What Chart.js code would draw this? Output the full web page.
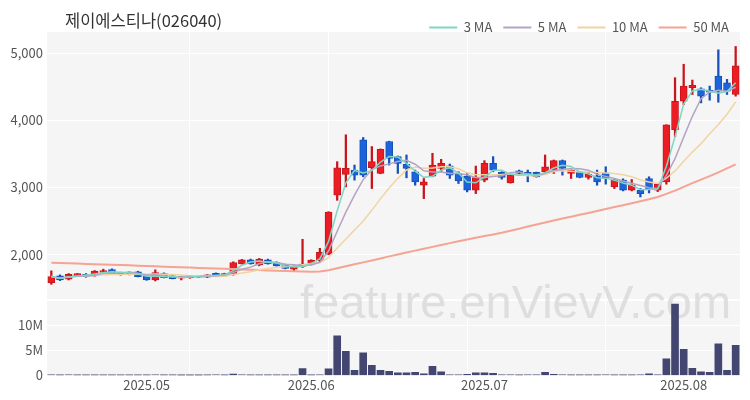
<!DOCTYPE html>
<html>
<head>
<meta charset="utf-8">
<script src="https://cdn.jsdelivr.net/npm/chart.js@4.4.1/dist/chart.umd.min.js"></script>
<style>
  body { margin: 0; background: #fff; }
  #wrap { position: relative; width: 750px; height: 400px; }
  #title { position: absolute; left: 65px; top: 10px; font: 16.5px/20px "Noto Sans CJK KR", sans-serif; color: #333; }
</style>
</head>
<body>
<div id="wrap">
  <div id="title">제이에스티나(026040)</div>
  <canvas id="c" width="750" height="400"></canvas>
</div>
<script>
// 거래일 (월별)
const tradingDays = {
  "2025-04": [16, 17, 18, 21, 22, 23, 24, 25, 28, 29, 30],
  "2025-05": [2, 7, 8, 9, 12, 13, 14, 15, 16, 19, 20, 21, 22, 23, 26, 27, 28, 29, 30],
  "2025-06": [2, 3, 4, 5, 9, 10, 11, 12, 13, 16, 17, 18, 19, 20, 23, 24, 25, 26, 27, 30],
  "2025-07": [1, 2, 3, 4, 7, 8, 9, 10, 11, 14, 15, 16, 17, 18, 21, 22, 23, 24, 25, 28, 29, 30, 31],
  "2025-08": [1, 4, 5, 6, 7, 8, 11],
};
const dates = Object.entries(tradingDays).flatMap(([m, ds]) =>
  ds.map((d) => m + "-" + String(d).padStart(2, "0"))
);

const opens = [
  1585, 1685, 1635, 1690, 1710, 1685, 1735, 1780, 1705, 1705,
  1745, 1685, 1625, 1720, 1685, 1650, 1655, 1665, 1665, 1725,
  1685, 1710, 1865, 1925, 1850, 1925, 1885, 1855, 1785, 1825,
  1860, 1910, 2010, 2885, 3195, 3260, 3710, 3295, 3210, 3685,
  3460, 3345, 3235, 3035, 3170, 3285, 3325, 3200, 3170, 2960,
  3110, 3360, 3225, 3070, 3250, 3225, 3225, 3235, 3260, 3400,
  3210, 3235, 3150, 3175, 3220, 3010, 3110, 2960, 2960, 3135,
  2960, 3085, 3860, 4285, 4485, 4470, 4445, 4660, 4560, 4385,
];
const highs = [
  1760, 1700, 1720, 1720, 1720, 1765, 1785, 1790, 1740, 1745,
  1755, 1690, 1775, 1730, 1690, 1680, 1690, 1690, 1705, 1730,
  1725, 1895, 1930, 1935, 1945, 1935, 1895, 1860, 1840, 2230,
  1925, 2095, 2640, 3385, 3785, 3335, 3745, 3610, 3575, 3690,
  3470, 3485, 3260, 3135, 3510, 3420, 3350, 3235, 3210, 3320,
  3400, 3460, 3235, 3190, 3260, 3260, 3230, 3485, 3410, 3410,
  3260, 3240, 3235, 3260, 3310, 3135, 3130, 3120, 2985, 3160,
  3060, 3935, 4635, 4835, 4600, 4485, 4510, 5050, 4610, 5100,
];
const lows = [
  1560, 1615, 1625, 1680, 1665, 1680, 1725, 1715, 1695, 1700,
  1670, 1620, 1610, 1655, 1640, 1625, 1650, 1660, 1660, 1680,
  1680, 1695, 1860, 1860, 1835, 1860, 1830, 1790, 1755, 1810,
  1850, 1885, 2000, 2810, 3010, 3110, 3160, 2985, 3205, 3335,
  3210, 3145, 3035, 2835, 3160, 3235, 3135, 3060, 2935, 2910,
  3085, 3235, 3125, 3065, 3185, 3085, 3155, 3210, 3210, 3185,
  3135, 3145, 3125, 3035, 3050, 2985, 2950, 2950, 2860, 2920,
  2940, 3050, 3760, 4235, 4385, 4260, 4300, 4270, 4385, 4360,
];
const closes = [
  1675, 1625, 1710, 1710, 1675, 1755, 1765, 1720, 1730, 1740,
  1675, 1625, 1735, 1660, 1645, 1675, 1685, 1685, 1700, 1685,
  1720, 1885, 1925, 1865, 1935, 1865, 1835, 1795, 1825, 1860,
  1920, 2035, 2635, 3295, 3285, 3185, 3185, 3385, 3570, 3435,
  3360, 3285, 3085, 3085, 3335, 3360, 3185, 3100, 2960, 3150,
  3360, 3260, 3150, 3185, 3210, 3195, 3160, 3310, 3400, 3285,
  3260, 3150, 3200, 3085, 3135, 3110, 2960, 3035, 2910, 2970,
  3050, 3935, 4285, 4510, 4520, 4360, 4420, 4435, 4435, 4810,
];
// 거래량 (백만 주)
const volumes = [
  0.12, 0.05, 0.08, 0.04, 0.03, 0.07, 0.05, 0.04, 0.03, 0.03,
  0.03, 0.04, 0.1, 0.05, 0.03, 0.02, 0.02, 0.02, 0.03, 0.08,
  0.05, 0.25, 0.12, 0.05, 0.06, 0.04, 0.03, 0.03, 0.05, 1.35,
  0.05, 0.1, 1.3, 7.9, 4.8, 1.0, 4.5, 2.0, 1.0, 0.8,
  0.5, 0.5, 0.6, 0.3, 1.8, 0.7, 0.1, 0.1, 0.2, 0.5,
  0.5, 0.4, 0.1, 0.1, 0.05, 0.1, 0.1, 0.6, 0.2, 0.1,
  0.05, 0.05, 0.05, 0.05, 0.08, 0.05, 0.05, 0.05, 0.1, 0.3,
  0.1, 3.3, 14.2, 5.2, 1.4, 0.7, 0.6, 6.3, 1.0, 6.0,
];
// 50일 이동평균
const ma50 = [
  1882, 1878, 1873, 1869, 1864, 1860, 1856, 1851, 1846, 1842,
  1837, 1832, 1828, 1823, 1818, 1814, 1809, 1804, 1800, 1795,
  1790, 1786, 1781, 1776, 1772, 1767, 1763, 1758, 1754, 1750,
  1748, 1752, 1768, 1798, 1828, 1857, 1886, 1915, 1944, 1976,
  2005, 2033, 2061, 2089, 2117, 2145, 2173, 2200, 2226, 2252,
  2278, 2302, 2327, 2358, 2388, 2420, 2450, 2480, 2510, 2538,
  2566, 2594, 2622, 2650, 2680, 2710, 2738, 2766, 2796, 2825,
  2860, 2905, 2955, 3010, 3065, 3118, 3170, 3225, 3285, 3345,
];
const priceTicks = [2000, 3000, 4000, 5000];
const volumeTicks = [0, 5e6, 10e6];

const UP = "#ec1c24", UP_EDGE = "#c8141b";
const DOWN = "#1c64dc", DOWN_EDGE = "#1650b8";

// 단순 이동평균 (앞부분은 있는 만큼만)
function movingAvg(n) {
  return closes.map((_, i) => {
    const s = closes.slice(Math.max(0, i - n + 1), i + 1);
    return s.reduce((a, b) => a + b, 0) / s.length;
  });
}

const isUp = closes.map((c, i) => c >= opens[i]);

const panelBg = {
  id: "panelBg",
  beforeDraw(chart) {
    const { ctx, chartArea: a, scales } = chart;
    ctx.save();
    ctx.fillStyle = "#f5f5f5";
    const p = scales.y, v = scales.y2;
    ctx.fillRect(a.left, p.top, a.right - a.left, p.bottom - p.top - 1);
    ctx.fillRect(a.left, v.top + 1, a.right - a.left, v.bottom - v.top - 1);
    ctx.restore();
  },
};

const watermark = {
  id: "watermark",
  beforeDatasetsDraw(chart) {
    const ctx = chart.ctx;
    ctx.save();
    ctx.font = '47px "Liberation Sans", Arial, sans-serif';
    ctx.fillStyle = "rgba(212,212,212,0.7)";
    ctx.textBaseline = "alphabetic";
    ctx.fillText("feature.enVievV.com", 300, 318);
    ctx.restore();
  },
};

// 범례 높이를 줄여 차트 영역을 위로
const legendHeight = {
  id: "legendHeight",
  beforeUpdate(chart) {
    const lg = chart.legend;
    if (lg && !lg._patched) {
      const fit = lg.fit;
      lg.fit = function () {
        fit.call(this);
        this.height = 22;
      };
      lg._patched = true;
    }
  },
};

Chart.defaults.font.family = '"Noto Sans CJK KR", "Noto Sans", sans-serif';
Chart.defaults.font.size = 13;
Chart.defaults.color = "#555";

new Chart(document.getElementById("c"), {
  data: {
    labels: dates,
    datasets: [
      { type: "line", label: "3 MA", data: movingAvg(3), borderColor: "#7fd6c4", borderWidth: 1.5, pointRadius: 0, yAxisID: "y", order: 0 },
      { type: "line", label: "5 MA", data: movingAvg(5), borderColor: "#b4a3c4", borderWidth: 1.5, pointRadius: 0, yAxisID: "y", order: 0 },
      { type: "line", label: "10 MA", data: movingAvg(10), borderColor: "#f2d3a2", borderWidth: 1.5, pointRadius: 0, yAxisID: "y", order: 0 },
      { type: "line", label: "50 MA", data: ma50, borderColor: "#f5a392", borderWidth: 2, pointRadius: 0, yAxisID: "y", order: 0 },
      {
        type: "bar", label: "wick", yAxisID: "y", order: 2, grouped: false,
        data: lows.map((l, i) => [l, highs[i]]),
        backgroundColor: isUp.map((u) => (u ? UP_EDGE : DOWN_EDGE)),
        barThickness: 1.6,
      },
      {
        type: "bar", label: "body", yAxisID: "y", order: 1, grouped: false,
        data: opens.map((o, i) => [o, closes[i]]),
        backgroundColor: isUp.map((u) => (u ? UP : DOWN)),
        borderColor: isUp.map((u) => (u ? UP_EDGE : DOWN_EDGE)),
        borderWidth: 1, borderSkipped: false,
        barThickness: 7, minBarLength: 2,
      },
      {
        type: "bar", label: "volume", yAxisID: "y2", order: 1, grouped: false,
        data: volumes.map((v) => v * 1e6),
        backgroundColor: "#434670",
        barThickness: 7,
      },
    ],
  },
  options: {
    responsive: false,
    animation: false,
    layout: { padding: { top: 10, right: 10, bottom: 5, left: 0 } },
    plugins: {
      tooltip: { enabled: false },
      legend: {
        position: "top",
        align: "end",
        labels: {
          boxWidth: 28,
          boxHeight: 2,
          padding: 11,
          color: "#555",
          generateLabels(chart) {
            return Chart.defaults.plugins.legend.labels
              .generateLabels(chart)
              .filter((l) => l.datasetIndex < 4)
              .map((l) => ({ ...l, fillStyle: l.strokeStyle, lineWidth: 0 }));
          },
        },
      },
    },
    scales: {
      x: {
        type: "category",
        offset: true,
        border: { display: false },
        grid: {
          offset: false,
          drawTicks: false,
          color: (c) => (c.index > 0 && c.index % 16 === 0 ? "#ffffff" : "rgba(0,0,0,0)"),
        },
        ticks: {
          autoSkip: false,
          maxRotation: 0,
          padding: 2,
          color: "#555",
          callback(val, i) {
            if (i === 0) return "";
            const m = dates[i].slice(0, 7);
            return m !== dates[i - 1].slice(0, 7) ? m.replace("-", ".") : "";
          },
        },
      },
      y2: {
        type: "linear",
        position: "left",
        stack: "v",
        stackWeight: 75,
        min: 0,
        max: 15e6,
        border: { display: false },
        grid: { color: "#ffffff", drawTicks: false },
        afterBuildTicks: (s) => { s.ticks = volumeTicks.map((v) => ({ value: v })); },
        afterFit: (s) => { s.width = 47; },
        ticks: { padding: 4, callback: (v) => (v === 0 ? "0" : v / 1e6 + "M") },
      },
      y: {
        type: "linear",
        position: "left",
        stack: "v",
        stackWeight: 267,
        min: 1325,
        max: 5315,
        border: { display: false },
        grid: { color: "#ffffff", drawTicks: false },
        afterBuildTicks: (s) => { s.ticks = priceTicks.map((v) => ({ value: v })); },
        afterFit: (s) => { s.width = 47; },
        ticks: { padding: 4, callback: (v) => v.toLocaleString("en-US") },
      },
    },
  },
  plugins: [panelBg, watermark, legendHeight],
});
</script>
</body>
</html>
